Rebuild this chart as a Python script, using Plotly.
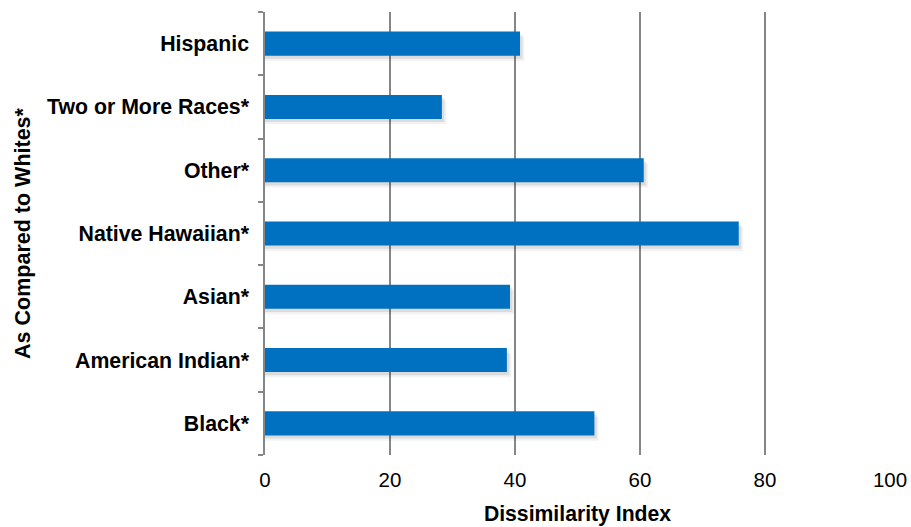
import plotly.graph_objects as go

categories = ["Black*", "American Indian*", "Asian*", "Native Hawaiian*", "Other*", "Two or More Races*", "Hispanic"]
values = [52.7, 38.7, 39.2, 75.8, 60.6, 28.3, 40.8]
x_ticks = [0, 20, 40, 60, 80, 100]

fig = go.Figure()
# soft drop shadow below each bar (two translucent layers)
for dx, dy, alpha in [(0.7, 0.085, 0.05), (0.4, 0.05, 0.09)]:
    fig.add_trace(go.Bar(
        y=categories, x=[v + dx for v in values], orientation="h",
        marker=dict(color=f"rgba(0,0,0,{alpha})", line=dict(width=0)),
        width=0.38, offset=-0.19 - dy, hoverinfo="skip",
    ))
fig.add_trace(go.Bar(
    y=categories, x=values, orientation="h",
    marker=dict(color="#0070C0", line=dict(width=0)),
    width=0.38, offset=-0.19,
))

fig.update_layout(
    width=911, height=527,
    barmode="overlay",
    margin=dict(l=265, r=21, t=12, b=72, autoexpand=False),
    paper_bgcolor="white", plot_bgcolor="white",
    showlegend=False,
    font=dict(family="Liberation Sans, Arial, sans-serif", color="black"),
    xaxis=dict(
        range=[0, 100], tickvals=x_ticks, ticktext=[str(t) for t in x_ticks],
        showgrid=True, gridcolor="#868686", gridwidth=1.5,
        zeroline=False, showline=False, ticks="", automargin=False,
        tickfont=dict(size=20.5), ticklabelstandoff=10,
        title=dict(text="<b>Dissimilarity Index</b>", font=dict(size=21.2), standoff=16),
    ),
    yaxis=dict(
        categoryorder="array", categoryarray=categories, automargin=False,
        showline=True, linecolor="#868686", linewidth=1.5,
        ticks="outside", tickson="boundaries", ticklen=5, tickcolor="#868686", tickwidth=1.5,
        tickfont=dict(size=21.3), ticklabelstandoff=10,
        tickprefix="<b>", ticksuffix="</b>",
        title=dict(text="<b>As Compared to Whites*</b>", font=dict(size=21.5), standoff=10),
    ),
)

fig.write_html("out.html", config={"displayModeBar": False},
               post_script="document.body.style.margin='0';")
